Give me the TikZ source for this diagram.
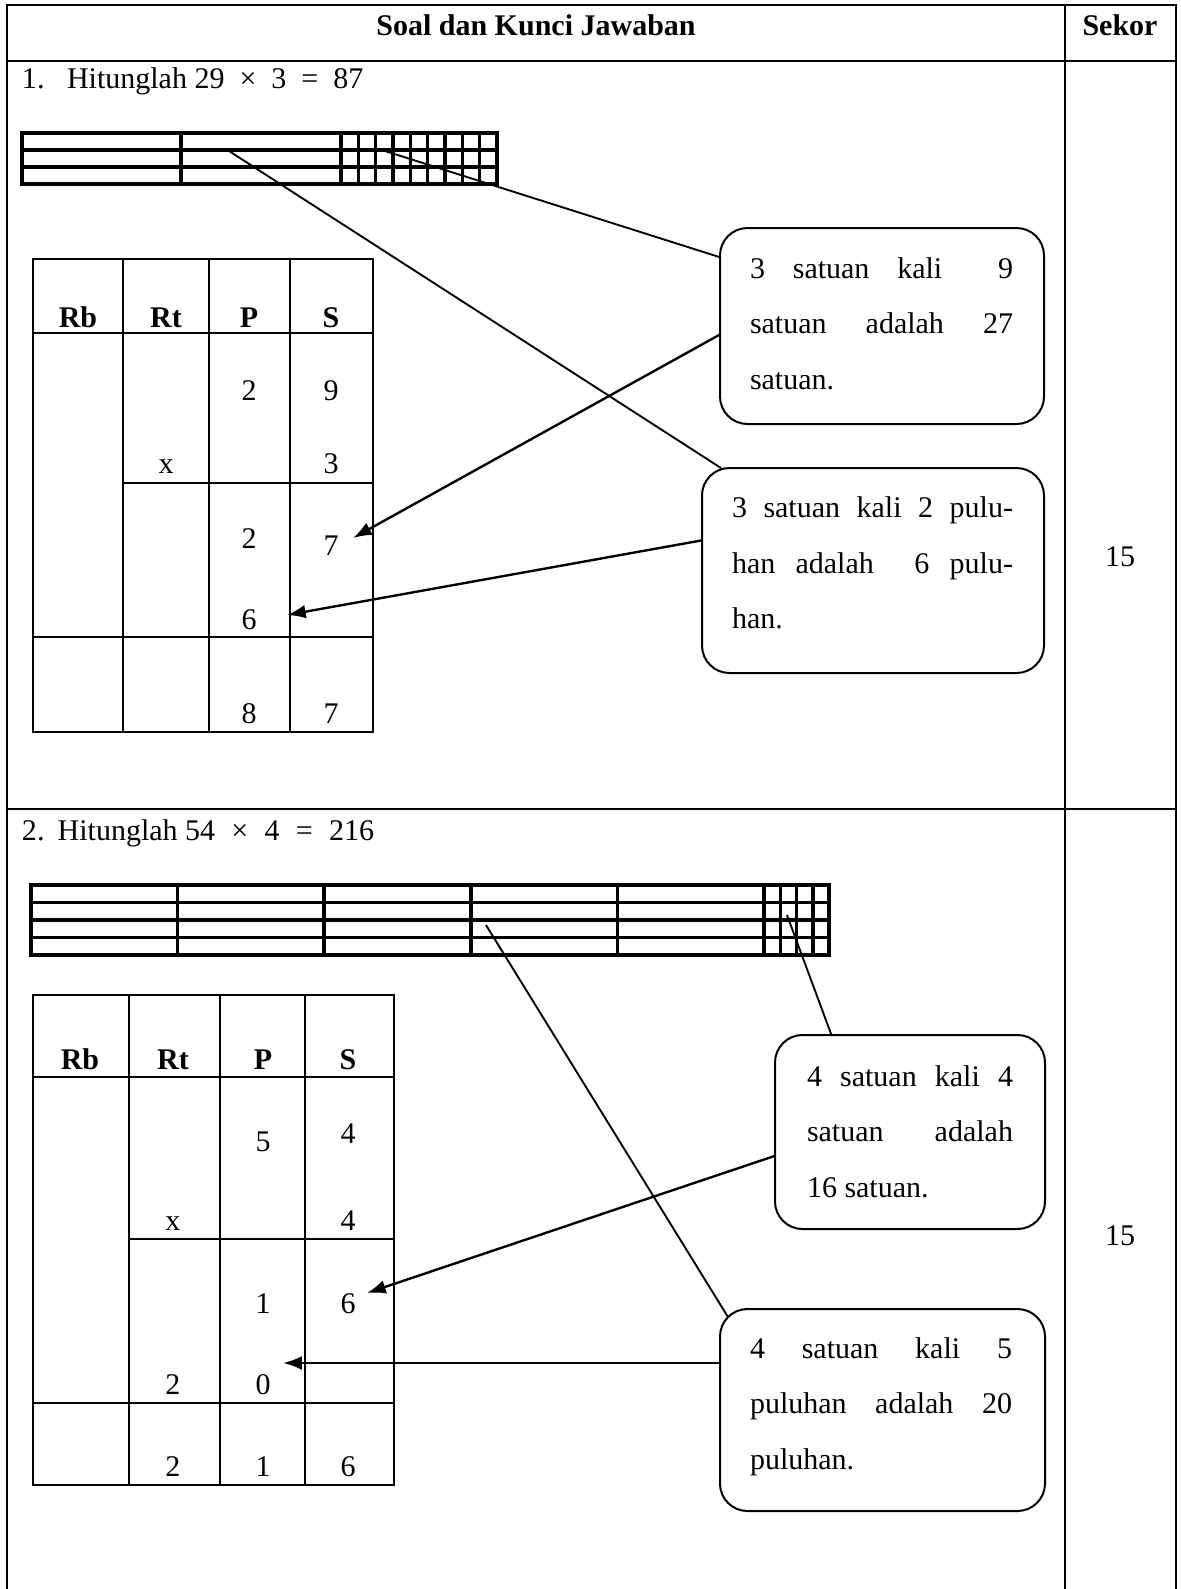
\documentclass[tikz,border=0pt]{standalone}
\usepackage{fontspec}
\setmainfont{Liberation Serif}
\usetikzlibrary{arrows.meta,calc}
\begin{document}
\begin{tikzpicture}[x=0.4pt,y=-0.4pt,
  every node/.style={font=\fontsize{12pt}{14pt}\selectfont, inner sep=0pt, outer sep=0pt},
  tbl/.style={line width=1.1pt},
  gridln/.style={line width=1.4pt},
  cellln/.style={line width=0.95pt},
  conn/.style={line width=0.75pt},
  arr/.style={line width=0.95pt, -{Latex[length=7.5pt,width=5.5pt]}},
  kotak/.style={draw, line width=0.8pt, rounded corners=11pt},
  txt/.style={anchor=base},
  bx/.style={anchor=base west}
]
\useasboundingbox (0,0) rectangle (1181,1589);

% ---------- outer table ----------
\draw[tbl] (7,1589) -- (7,5) -- (1176,5) -- (1176,1589);
\draw[tbl] (1065,5) -- (1065,1589);
\draw[tbl] (7,61) -- (1176,61);
\draw[tbl] (7,809) -- (1176,809);

\node[txt] (hd1) at (536,35) {\textbf{Soal dan Kunci Jawaban}};
\node[txt] (hd2) at (1120,35) {\textbf{Sekor}};
\node[txt] (sk1) at (1120,566) {15};
\node[txt] (sk2) at (1120,1245) {15};

% ---------- question 1 ----------
\node[bx] (q1) at (22,88) {1.\hspace{9pt}Hitunglah 29\hspace{6pt}×\hspace{6pt}3\hspace{6pt}=\hspace{6pt}87};

% bar grid 1
\draw[gridln] (22,133) rectangle (497,184);
\foreach \yy in {150,167} \draw[gridln] (22,\yy) -- (497,\yy);
\foreach \xx in {181,341} \draw[gridln] (\xx,133) -- (\xx,184);
\foreach \i in {1,...,8} \draw[gridln] ({341+\i*17.33},133) -- ({341+\i*17.33},184);

% place value table 1
\draw[cellln] (33.3,259) rectangle (373.3,731.7);
\foreach \xx in {122.7,209,290} \draw[cellln] (\xx,259) -- (\xx,731.7);
\draw[cellln] (33.3,333) -- (373.3,333);
\draw[cellln] (122.7,482.7) -- (373.3,482.7);
\draw[cellln] (33.3,637) -- (373.3,637);

\node[txt] (a-rb) at (78,327) {\textbf{Rb}};
\node[txt] (a-rt) at (166,327) {\textbf{Rt}};
\node[txt] (a-p) at (249,327) {\textbf{P}};
\node[txt] (a-s) at (331,327) {\textbf{S}};
\node[txt] (a-p1) at (249,400) {2};
\node[txt] (a-s1) at (331,400) {9};
\node[txt] (a-x) at (166,473) {x};
\node[txt] (a-s2) at (331,473) {3};
\node[txt] (a-p3) at (249,548) {2};
\node[txt] (a-s3) at (331,555) {7};
\node[txt] (a-p4) at (249,629) {6};
\node[txt] (a-p5) at (249,723) {8};
\node[txt] (a-s5) at (331,723) {7};

% boxes 1 and 2
\node[kotak, minimum width=129.6pt, minimum height=78.4pt] (b1) at (882,326) {};
\node[kotak, minimum width=136.8pt, minimum height=82pt] (b2) at (873,570.5) {};
\node[bx] (b1t) at (750,278) {\parbox[t]{105.2pt}{\fontsize{12pt}{22.2pt}\selectfont
  \makebox[\linewidth][s]{3 satuan kali\ \ 9}\\
  \makebox[\linewidth][s]{satuan adalah 27}\\
  satuan.}};
\node[bx] (b2t) at (732,517.7) {\parbox[t]{112.4pt}{\fontsize{12pt}{22.2pt}\selectfont
  \makebox[\linewidth][s]{3 satuan kali 2 pulu-}\\
  \makebox[\linewidth][s]{han adalah\ \ 6 pulu-}\\
  han.}};

\coordinate (g1a) at (385,151);
\coordinate (g1b) at (229,151);
\coordinate (e1) at (353,538);
\coordinate (e2) at (287,615);
\draw[conn] (g1a) -- (b1.157.2);
\draw[conn] (g1b) -- (b2.146.2);
\draw[arr] (b1.183.9) -- (e1);
\draw[arr] (b2.170.5) -- (e2);

% ---------- question 2 ----------
\node[bx] (q2) at (22,840) {2.\hspace{5.3pt}Hitunglah 54\hspace{6.5pt}×\hspace{6.5pt}4\hspace{6.5pt}=\hspace{6.5pt}216};

% bar grid 2
\draw[gridln] (31,885) rectangle (829,955);
\foreach \yy in {902.5,920,937.5} \draw[gridln] (31,\yy) -- (829,\yy);
\foreach \i in {1,...,5} \draw[gridln] ({31+\i*146.6},885) -- ({31+\i*146.6},955);
\foreach \i in {1,2,3} \draw[gridln] ({764+\i*16.25},885) -- ({764+\i*16.25},955);

% place value table 2
\draw[cellln] (33.3,995) rectangle (394,1485);
\foreach \xx in {129,220,305} \draw[cellln] (\xx,995) -- (\xx,1485);
\draw[cellln] (33.3,1076.7) -- (394,1076.7);
\draw[cellln] (129,1239) -- (394,1239);
\draw[cellln] (33.3,1403) -- (394,1403);

\node[txt] (c-rb) at (80,1069) {\textbf{Rb}};
\node[txt] (c-rt) at (173,1069) {\textbf{Rt}};
\node[txt] (c-p) at (263,1069) {\textbf{P}};
\node[txt] (c-s) at (348,1069) {\textbf{S}};
\node[txt] (c-p1) at (263,1151) {5};
\node[txt] (c-s1) at (348,1143) {4};
\node[txt] (c-x) at (173,1230) {x};
\node[txt] (c-s2) at (348,1230) {4};
\node[txt] (c-p3) at (263,1313) {1};
\node[txt] (c-s3) at (348,1313) {6};
\node[txt] (c-t4) at (173,1394) {2};
\node[txt] (c-p4) at (263,1394) {0};
\node[txt] (c-t5) at (173,1476) {2};
\node[txt] (c-p5) at (263,1476) {1};
\node[txt] (c-s5) at (348,1476) {6};

% boxes 3 and 4
\node[kotak, minimum width=108pt, minimum height=77.6pt] (b3) at (910,1132) {};
\node[kotak, minimum width=130pt, minimum height=80.8pt] (b4) at (882.5,1410) {};
\node[bx] (b3t) at (807,1086) {\parbox[t]{82.4pt}{\fontsize{12pt}{22.2pt}\selectfont
  \makebox[\linewidth][s]{4 satuan kali 4}\\
  \makebox[\linewidth][s]{satuan adalah}\\
  16 satuan.}};
\node[bx] (b4t) at (750,1358) {\parbox[t]{104.8pt}{\fontsize{12pt}{22.2pt}\selectfont
  \makebox[\linewidth][s]{4 satuan kali 5}\\
  \makebox[\linewidth][s]{puluhan adalah 20}\\
  puluhan.}};

\coordinate (g2a) at (787,915);
\coordinate (g2b) at (486,925);
\coordinate (e3) at (367,1293);
\coordinate (e4) at (283,1363);
\draw[conn] (g2a) -- (b3.129.5);
\draw[conn] (g2b) -- ($(b4.north west)+(8,8)$);
\draw[arr] (b3.190.4) -- (e3);
\draw[arr] (b4.west |- e4) -- (e4);
\end{tikzpicture}
\end{document}
